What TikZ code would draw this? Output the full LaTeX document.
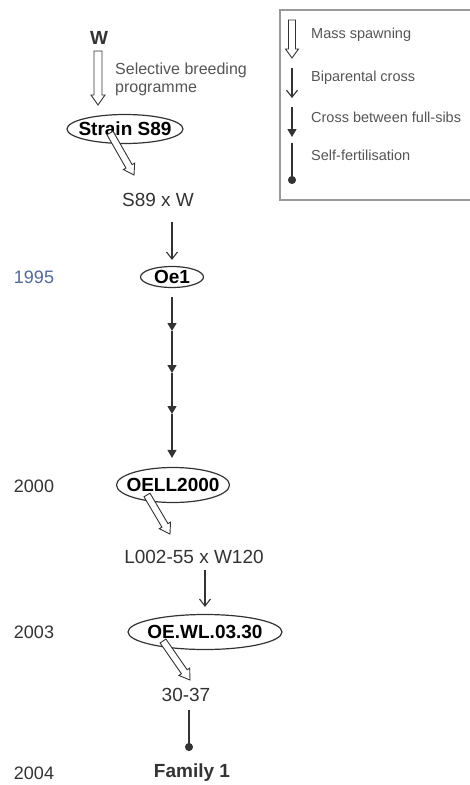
\documentclass[tikz,border=0pt]{standalone}
\usepackage{fontspec}
\setmainfont{Liberation Sans}
\usetikzlibrary{arrows.meta,calc,shapes.geometric}
\definecolor{ink}{HTML}{333333}
\definecolor{soft}{HTML}{555555}
\definecolor{yearblue}{HTML}{4F6A9A}
\tikzset{
  lbl/.style={inner sep=0pt, text=ink, font=\fontsize{19}{21}\selectfont},
  boldlbl/.style={lbl, font=\fontsize{19}{21}\selectfont\bfseries},
  yearlbl/.style={lbl, font=\fontsize{18}{20}\selectfont},
  legtxt/.style={inner sep=0pt, anchor=west, text=soft, font=\fontsize{14.5}{16}\selectfont},
  seltxt/.style={inner sep=0pt, anchor=west, text=soft, font=\fontsize{16}{18}\selectfont},
  strain/.style={ellipse, draw=ink, line width=1.2pt, inner sep=0pt},
  hollowarr/.style={draw=ink, fill=white, line width=0.9pt, line join=miter},
  bip/.style={draw=ink, line width=1.1pt, -{Straight Barb[length=7pt,width=11pt,line width=1.1pt]}},
  fsib/.style={draw=ink, line width=1.3pt, -{Triangle[length=8pt,width=9pt]}},
  selfarr/.style={draw=ink, line width=1.3pt, -{Circle[length=8pt]}},
}
% #1 start, #2 end, #3 shaft half width, #4 head half width, #5 head length
\newcommand{\hollowarrow}[5]{%
  \coordinate (hc) at ($(#2)!#5!(#1)$);
  \draw[hollowarr] ($(#1)!#3!90:(#2)$) -- ($(hc)!#3!-90:(#1)$) -- ($(hc)!#4!-90:(#1)$) -- (#2)
     -- ($(hc)!#4!90:(#1)$) -- ($(hc)!#3!90:(#1)$) -- ($(#1)!#3!-90:(#2)$) -- cycle;
}
\begin{document}
\begin{tikzpicture}[x=1pt,y=1pt,yscale=-1]
\useasboundingbox[fill=white] (0,0) rectangle (469,785);

% legend
\draw[draw=gray!80, line width=1.3pt] (470,10) -- (280,10) -- (280,200) -- (470,200);
\coordinate (lg1a) at (292,20);
\coordinate (lg1b) at (292,58);
\hollowarrow{lg1a}{lg1b}{3.5pt}{6.5pt}{9pt}
\node[legtxt] (lt1) at (311,35) {Mass spawning};
\coordinate (lg2a) at (292,68);
\coordinate (lg2b) at (292,98);
\draw[bip] (lg2a) -- (lg2b);
\node[legtxt] (lt2) at (311,78) {Biparental cross};
\coordinate (lg3a) at (292,107);
\coordinate (lg3b) at (292,137);
\draw[fsib] (lg3a) -- (lg3b);
\node[legtxt] (lt3) at (311,117) {Cross between full-sibs};
\coordinate (lg4a) at (292,143);
\coordinate (lg4b) at (292,184);
\draw[selfarr] (lg4a) -- (lg4b);
\node[legtxt] (lt4) at (311,155) {Self-fertilisation};

% main column
\node[boldlbl] (w) at (99,38) {W};
\coordinate (wa) at (98,51);
\coordinate (wb) at (98,105);
\hollowarrow{wa}{wb}{4pt}{7pt}{10pt}
\node[seltxt] (sel1) at (115,70) {Selective breeding};
\node[seltxt] (sel2) at (115,90) {programme};

\node[strain, minimum width=116pt, minimum height=29pt] (s89) at (125,129) {\makebox[0pt]{\fontsize{19}{21}\selectfont\bfseries Strain S89}};
\coordinate (d1a) at (110,133);
\coordinate (d1b) at (134,175);
\hollowarrow{d1a}{d1b}{3.5pt}{6.5pt}{10pt}

\node[lbl] (s89w) at (158,200) {S89 x W};
\node[strain, minimum width=63pt, minimum height=21pt] (oe1) at (172,277) {\makebox[0pt]{\fontsize{19}{21}\selectfont\bfseries Oe1}};
\node[yearlbl, text=yearblue] (y1995) at (34,277) {1995};
\draw[bip, shorten <=15pt, shorten >=6pt] (s89w.south -| oe1.north) -- (oe1.north);

\coordinate (fs1) at (172,331);
\coordinate (fs2) at (172,373);
\coordinate (fs3) at (172,414);
\node[strain, minimum width=113pt, minimum height=35pt] (oell) at (173,485) {\makebox[0pt]{\fontsize{19}{21}\selectfont\bfseries OELL2000}};
\node[yearlbl] (y2000) at (34,486) {2000};
\draw[fsib, shorten <=9pt] (oe1.south) -- (fs1);
\draw[fsib] (fs1) -- (fs2);
\draw[fsib] (fs2) -- (fs3);
\draw[fsib, shorten >=9pt] (fs3) -- (oell.north -| fs3);

\coordinate (d2a) at (147,495);
\coordinate (d2b) at (170,534);
\hollowarrow{d2a}{d2b}{3.5pt}{6.5pt}{10pt}

\node[lbl] (l002) at (194,557) {L002-55 x W120};
\node[strain, minimum width=154pt, minimum height=35pt] (oewl) at (205,632) {\makebox[0pt]{\fontsize{19}{21}\selectfont\bfseries OE.WL.03.30}};
\node[yearlbl] (y2003) at (34,632) {2003};
\draw[bip, shorten <=6pt, shorten >=7pt] (l002.south -| oewl.north) -- (oewl.north);

\coordinate (d3a) at (163,641);
\coordinate (d3b) at (190,680);
\hollowarrow{d3a}{d3b}{3.5pt}{6.5pt}{10pt}

\node[lbl] (n3037) at (186,695) {30-37};
\coordinate (dot) at (189,751);
\draw[selfarr, shorten <=8pt] (n3037.south -| dot) -- (dot);
\node[boldlbl] (fam) at (192,773) {Family 1};
\node[yearlbl] (y2004) at (34,773) {2004};
\end{tikzpicture}
\end{document}
